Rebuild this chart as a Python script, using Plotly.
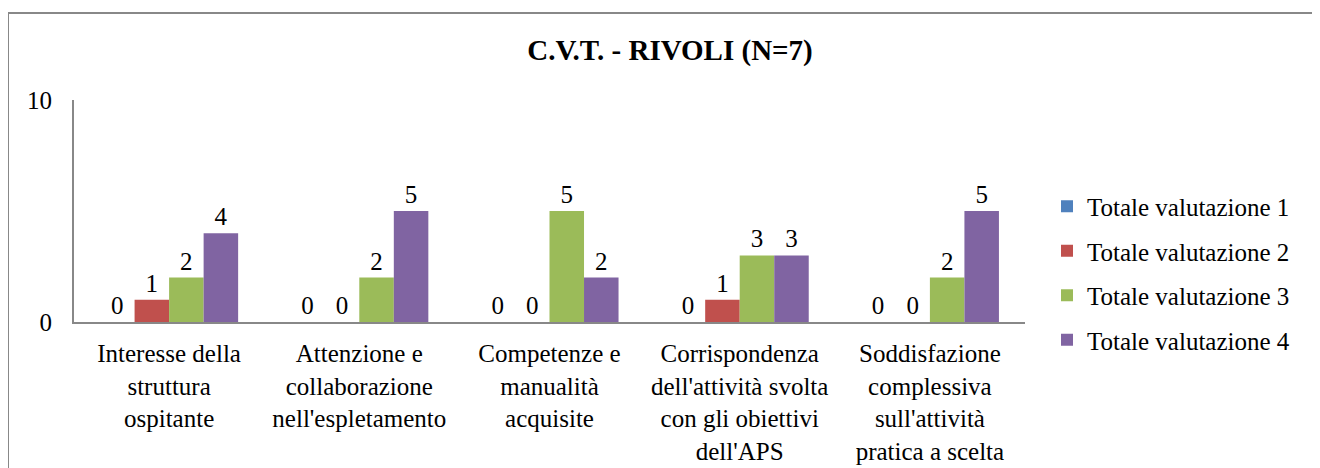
import plotly.graph_objects as go

categories = [
    "Interesse della<br>struttura<br>ospitante",
    "Attenzione e<br>collaborazione<br>nell'espletamento",
    "Competenze e<br>manualità<br>acquisite",
    "Corrispondenza<br>dell'attività svolta<br>con gli obiettivi<br>dell'APS",
    "Soddisfazione<br>complessiva<br>sull'attività<br>pratica a scelta",
]
series_names = ["Totale valutazione 1", "Totale valutazione 2",
                "Totale valutazione 3", "Totale valutazione 4"]
val1 = [0, 0, 0, 0, 0]
val2 = [1, 0, 0, 1, 0]
val3 = [2, 2, 5, 3, 2]
val4 = [4, 5, 2, 3, 5]
colors = ["#4F81BD", "#C0504D", "#9BBB59", "#8064A2"]
title = "C.V.T. - RIVOLI (N=7)"

FONT = "Liberation Serif, Times New Roman, serif"
FS = 25
# page body has an 8px margin: figure coordinates = screen - 8
W, H = 1312, 460
L, T = 66, 92
PR, PB = 1017, 314
R, B = W - PR, H - PB
pw, ph = PR - L, PB - T

fig = go.Figure()
for i, (name, vals) in enumerate(zip(series_names, [val1, val2, val3, val4])):
    fig.add_trace(go.Bar(
        x=categories, y=vals, name=name,
        marker=dict(color=colors[i], line=dict(width=0)),
        text=vals, textposition="outside", texttemplate="%{text}",
        textfont=dict(family=FONT, size=FS, color="black"),
        cliponaxis=False, legendgroup=f"g{i}",
    ))

fig.update_layout(
    width=W, height=H,
    margin=dict(l=L, r=R, t=T, b=B, autoexpand=False),
    paper_bgcolor="white", plot_bgcolor="white",
    barmode="group", bargap=0.274, bargroupgap=0,
    font=dict(family=FONT, size=FS, color="black"),
    title=dict(text="<b>" + title + "</b>", x=662 / W, xanchor="center",
               y=1 - 42 / H, yanchor="middle",
               font=dict(family=FONT, size=29, color="black")),
    legend=dict(x=(1039 - L) / pw, xanchor="left", y=(PB - 265) / ph, yanchor="middle",
                traceorder="grouped", tracegroupgap=9,
                font=dict(family=FONT, size=FS, color="black"),
                itemwidth=30, bgcolor="rgba(0,0,0,0)"),
    showlegend=True,
)
fig.update_xaxes(showline=True, linecolor="#888888", linewidth=2, ticks="",
                 automargin=False, ticklabelstandoff=8,
                 tickfont=dict(family=FONT, size=FS, color="black"), showgrid=False)
fig.update_yaxes(range=[0, 10], dtick=10, showline=True, linecolor="#888888", linewidth=2,
                 ticks="", showgrid=False, zeroline=False, ticklabelstandoff=15,
                 automargin=False,
                 tickfont=dict(family=FONT, size=FS, color="black"))

# outer chart border (top and left visible)
fig.add_shape(type="rect", xref="paper", yref="paper",
              x0=(0 - L) / pw, x1=(W + 20 - L) / pw,
              y0=-(H + 20 - PB) / ph, y1=1 + (T - 5) / ph,
              line=dict(color="#888888", width=2), layer="below")

fig.write_html("out.html")
